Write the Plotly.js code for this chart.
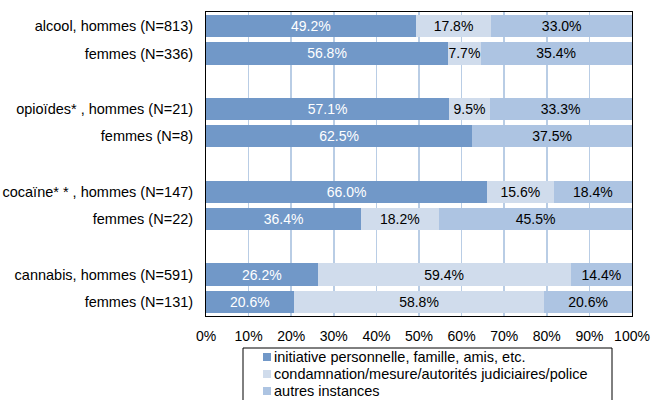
<!DOCTYPE html>
<html><head><meta charset="utf-8">
<script src="https://cdn.plot.ly/plotly-3.0.1.min.js"></script>
<style>html,body{margin:0;padding:0;background:#fff}#chart{width:651px;height:400px}</style>
</head><body><div id="chart"></div>
<script>
const categories = [
  "alcool, hommes (N=813)", "femmes (N=336)", " ",
  "opioïdes* , hommes (N=21)", "femmes (N=8)", "  ",
  "cocaïne* * , hommes (N=147)", "femmes (N=22)", "   ",
  "cannabis, hommes (N=591)", "femmes (N=131)"
];
const initiative   = [49.2, 56.8, null, 57.1, 62.5, null, 66.0, 36.4, null, 26.2, 20.6];
const condamnation = [17.8, 7.7, null, 9.5, 0, null, 15.6, 18.2, null, 59.4, 58.8];
const autres       = [33.0, 35.4, null, 33.3, 37.5, null, 18.4, 45.5, null, 14.4, 20.6];
const seriesNames = [
  "initiative personnelle, famille, amis, etc.",
  "condamnation/mesure/autorités judiciaires/police",
  "autres instances"
];
const colors = ["#7198c8", "#d0dcec", "#adc4e2"];
const textColors = ["#ffffff", "#000000", "#000000"];
const xTicks = [0,10,20,30,40,50,60,70,80,90,100];

const FONT = "Liberation Sans, Arial, sans-serif";
const W = 651, H = 400;
const M = {l: 206, r: 19, t: 12, b: 84};
const PW = W - M.l - M.r, PH = H - M.t - M.b;
const px2x = p => (p - M.l) / PW;
const px2y = p => (H - M.b - p) / PH;

const series = [initiative, condamnation, autres];
const traces = series.map((vals, i) => ({
  type: "bar", orientation: "h",
  name: seriesNames[i],
  y: categories, x: vals,
  marker: {color: colors[i]},
  text: vals.map(v => (v === null || v === 0) ? "" : v.toFixed(1) + "%"),
  texttemplate: "%{text}",
  textposition: "inside", insidetextanchor: "middle", textangle: 0,
  constraintext: "none",
  textfont: {family: FONT, size: 14, color: textColors[i]},
  hoverinfo: "skip",
  showlegend: false
}));

// Legend drawn as a box with swatches and labels (layout decoration)
const shapes = [{
  type: "rect", xref: "paper", yref: "paper",
  x0: px2x(243), x1: px2x(612), y0: px2y(348), y1: px2y(410),
  line: {color: "#000", width: 1}, fillcolor: "rgba(0,0,0,0)"
}];
const annotations = [];
const rowY = [357, 374, 391];
seriesNames.forEach((n, i) => {
  shapes.push({
    type: "rect", xref: "paper", yref: "paper",
    x0: px2x(263), x1: px2x(271), y0: px2y(rowY[i] - 4), y1: px2y(rowY[i] + 4),
    line: {width: 0}, fillcolor: colors[i]
  });
  annotations.push({
    xref: "paper", yref: "paper", x: px2x(272), y: px2y(rowY[i]),
    xanchor: "left", yanchor: "middle", showarrow: false,
    text: n, font: {family: FONT, size: 14.5, color: "#000"}
  });
});

const layout = {
  width: W, height: H,
  margin: {l: M.l, r: M.r, t: M.t, b: M.b, autoexpand: false},
  barmode: "stack", bargap: 0.2,
  paper_bgcolor: "#ffffff", plot_bgcolor: "#ffffff",
  font: {family: FONT, size: 14, color: "#000"},
  showlegend: false,
  shapes: shapes,
  annotations: annotations,
  xaxis: {
    range: [0, 100], tickvals: xTicks, ticktext: xTicks.map(t => t + "%"),
    showgrid: true, gridcolor: "#b9cde5", gridwidth: 1.5,
    zeroline: false, showline: true, linecolor: "#000", linewidth: 1, mirror: true,
    ticks: "", ticklabelstandoff: 7, tickfont: {size: 14}, fixedrange: true
  },
  yaxis: {
    type: "category", categoryorder: "array", categoryarray: categories,
    autorange: "reversed", showgrid: false, zeroline: false,
    showline: true, linecolor: "#000", linewidth: 1, mirror: true,
    ticks: "", ticklabelstandoff: 9, tickfont: {size: 14.5}, fixedrange: true
  }
};
Plotly.newPlot("chart", traces, layout, {displayModeBar: false, staticPlot: true});
</script></body></html>
